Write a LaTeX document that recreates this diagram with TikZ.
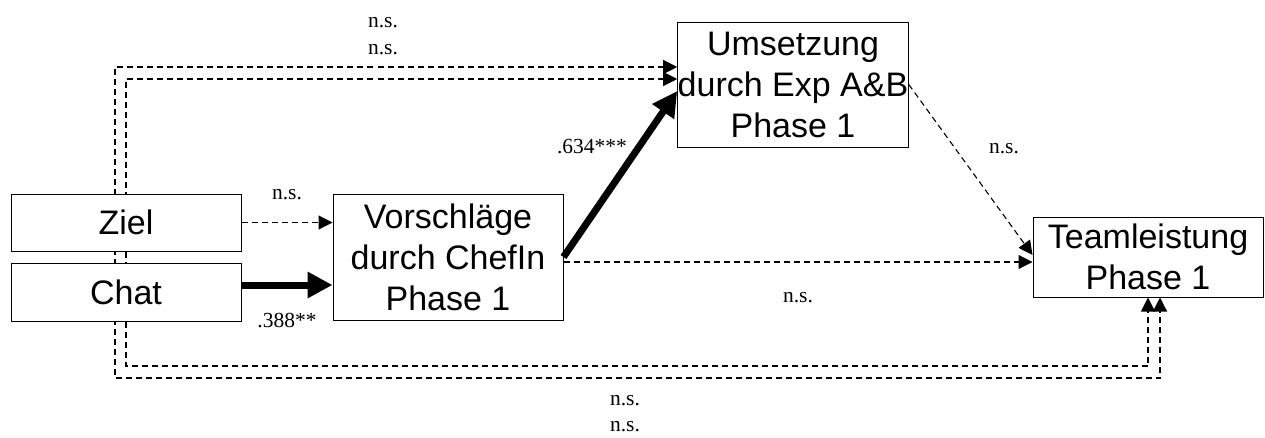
\documentclass[tikz,border=0pt]{standalone}
\usepackage{fontspec}
\setmainfont{Liberation Serif}
\newfontfamily\arialf{Liberation Sans}
\usetikzlibrary{arrows.meta}
\pgfdeclarelayer{bg}
\pgfsetlayers{bg,main}
\begin{document}
\begin{tikzpicture}[x=1pt,y=-1pt,
 box/.style={draw, line width=1pt, fill=white, minimum width=230pt, inner sep=0pt, align=center, font=\arialf\fontsize{34}{41}\selectfont},
 lbl/.style={font=\fontsize{21.5}{24}\selectfont, inner sep=0pt},
 dashline/.style={line width=1.1pt, dash pattern=on 6pt off 4pt},
 thintip/.tip={Triangle[length=14pt,width=14pt]},
 dasharrow/.style={dashline, -thintip},
 thickarrow/.style={line width=7pt, -{Triangle[length=25pt,width=25pt]}},
]
\useasboundingbox (0,0) rectangle (1265,437);
\node[box, minimum height=57pt] (Z) at (126,222.5) {Ziel};
\node[box, minimum height=58pt] (C) at (126,292) {Chat};
\node[box, minimum height=126pt] (V) at (448,257) {Vorschläge\\durch ChefIn\\Phase 1};
\node[box, minimum height=125pt] (U) at (793,84.5) {Umsetzung\\durch Exp A\&B\\Phase 1};
\node[box, minimum height=80pt] (T) at (1148,257) {Teamleistung\\Phase 1};

\draw[dasharrow] (Z.east) -- (Z.east -| V.west);
\draw[thickarrow] ([yshift=7pt]C.east) -- ([yshift=7pt]C.east -| V.west);
\draw[thickarrow] (V.east) -- ([yshift=-6.5pt]U.west);
\draw[dasharrow] ([yshift=-5pt]V.east) -- ([yshift=-5pt]V.east -| T.west);
\draw[dasharrow] (U.east) -- ([yshift=2pt]T.west);

\begin{pgfonlayer}{bg}
\coordinate (uo) at ([yshift=17.5pt]U.west);
\coordinate (ui) at ([yshift=5.5pt]U.west);
\coordinate (to) at ([xshift=12pt]T.south);
\coordinate (ob) at (115,378);
\coordinate (ib) at (126,366);
\draw[dashline, thintip-thintip] (uo) -| (ob) -| (to);
\draw[dashline, thintip-thintip] (ui) -| (ib) -| (T.south);
\end{pgfonlayer}

\node[lbl] (l1) at (383,23) {n.s.};
\node[lbl] (l2) at (383,50) {n.s.};
\node[lbl] (l3) at (287,195) {n.s.};
\node[lbl] (l4) at (287,320) {.388**};
\node[lbl] (l5) at (592,147) {.634***};
\node[lbl] (l6) at (1004,149) {n.s.};
\node[lbl] (l7) at (798,298) {n.s.};
\node[lbl] (l8) at (625,401) {n.s.};
\node[lbl] (l9) at (625,427) {n.s.};
\end{tikzpicture}
\end{document}
